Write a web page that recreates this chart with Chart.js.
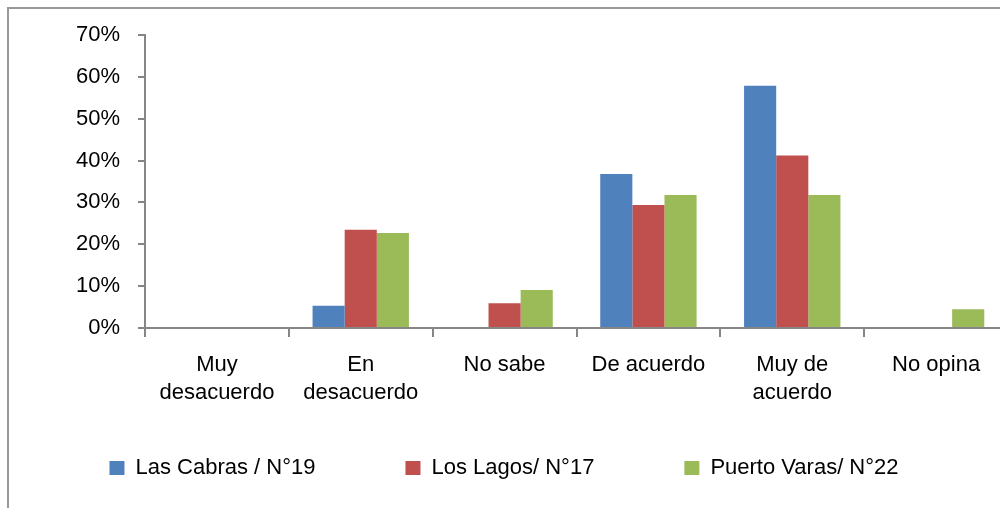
<!DOCTYPE html>
<html>
<head>
<meta charset="utf-8">
<script src="https://cdn.jsdelivr.net/npm/chart.js@4"></script>
<style>
  html, body { margin: 0; padding: 0; background: #fff; overflow: hidden; }
  #wrap { position: relative; width: 1000px; height: 508px; overflow: hidden; }
  #frame { position: absolute; left: 7px; top: 7px; width: 1100px; height: 600px;
           border-left: 2px solid #999; border-top: 2px solid #999; }
  #chart { position: absolute; left: 0; top: 0; }
</style>
</head>
<body>
<div id="wrap">
  <div id="frame"></div>
  <canvas id="chart" width="1014" height="530"></canvas>
</div>
<script>
// categories and values (percent)
const categories = [["Muy", "desacuerdo"], ["En", "desacuerdo"], "No sabe", "De acuerdo", ["Muy de", "acuerdo"], "No opina"];
const lasCabras = [0, 5.3, 0, 36.8, 57.9, 0];
const losLagos = [0, 23.5, 5.9, 29.4, 41.2, 0];
const puertoVaras = [0, 22.7, 9.1, 31.8, 31.8, 4.5];
const seriesNames = ["Las Cabras / N°19", "Los Lagos/ N°17", "Puerto Varas/ N°22"];
const yTicks = [0, 10, 20, 30, 40, 50, 60, 70];

const font = { family: "'Liberation Sans', Arial, sans-serif", size: 22, lineHeight: 1.27 };
const axisColor = "#868686";
const legendPad = 90;

const canvas = document.getElementById("chart");
const context = canvas.getContext("2d");

// the legend padding sets the gap between items, move the row up under the labels
const legendShift = {
    id: "legendShift",
    afterLayout(chart) {
        const l = chart.legend;
        const d = (457 - legendPad) - l.top;
        l.top += d;
        l.bottom += d;
    }
};

const chart = new Chart(context, {
    type: "bar",
    data: {
        labels: categories,
        datasets: [
            { label: seriesNames[0], data: lasCabras, backgroundColor: "#4F81BD" },
            { label: seriesNames[1], data: losLagos, backgroundColor: "#C0504D" },
            { label: seriesNames[2], data: puertoVaras, backgroundColor: "#9BBB59" }
        ]
    },
    plugins: [legendShift],
    options: {
        responsive: false,
        animation: false,
        devicePixelRatio: 1,
        layout: { padding: { top: 35, right: 6, left: 0, bottom: 0 } },
        datasets: { bar: { categoryPercentage: 0.67, barPercentage: 1 } },
        plugins: {
            tooltip: { enabled: false },
            legend: {
                position: "bottom",
                labels: {
                    color: "#000",
                    font: font,
                    boxWidth: 15,
                    boxHeight: 14,
                    padding: legendPad
                }
            }
        },
        scales: {
            x: {
                grid: { display: true, drawOnChartArea: false, drawTicks: true, tickLength: 9, color: axisColor, lineWidth: 2, offset: true },
                border: { color: axisColor, width: 2 },
                ticks: { color: "#000", font: font, padding: 14, maxRotation: 0, autoSkip: false },
                afterFit: axis => { axis.height = 80; }
            },
            y: {
                min: 0,
                max: 70,
                afterBuildTicks: axis => { axis.ticks = yTicks.map(v => ({ value: v })); },
                grid: { display: true, drawOnChartArea: false, drawTicks: true, tickLength: 7, color: axisColor, lineWidth: 2 },
                border: { color: axisColor, width: 2 },
                ticks: { color: "#000", font: font, padding: 18, callback: v => v + "%" },
                afterFit: axis => { axis.width = 145; }
            }
        }
    }
});
</script>
</body>
</html>
